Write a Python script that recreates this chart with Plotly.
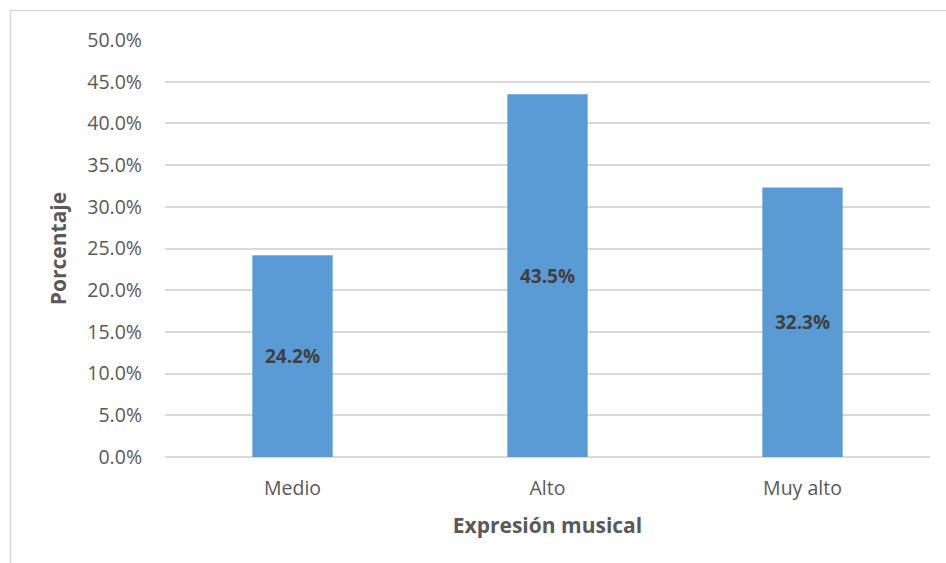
import plotly.graph_objects as go

# Share of respondents per level of musical expression
categories = ["Medio", "Alto", "Muy alto"]
values = [24.2, 43.5, 32.3]
tick_values = [0, 5, 10, 15, 20, 25, 30, 35, 40, 45, 50]
tick_labels = [f"{v:.1f}%" for v in tick_values]

W, H = 946, 563
ML, MR, MT, MB = 165, 16, 40, 106
plot_w = W - ML - MR
plot_h = H - MT - MB

FONT = "'Open Sans', Lato, sans-serif"
GREY = "#595959"

fig = go.Figure(
    go.Bar(
        x=categories,
        y=values,
        width=0.315,
        marker=dict(color="#5B9BD5", line=dict(width=0)),
        text=[f"{v:.1f}%" for v in values],
        textposition="inside",
        insidetextanchor="middle",
        textangle=0,
        textfont=dict(family=FONT, size=19, color="#404040", weight="bold"),
        cliponaxis=False,
    )
)

# Outer chart frame (partly off-page on the right and bottom)
px_to_x = lambda px: (px - ML) / plot_w
px_to_y = lambda py: (H - MB - py) / plot_h
fig.add_shape(
    type="rect", xref="paper", yref="paper",
    x0=px_to_x(10.5), x1=px_to_x(W + 20),
    y0=px_to_y(H + 20), y1=px_to_y(10.5),
    line=dict(color="#D9D9D9", width=1.5),
    fillcolor="rgba(0,0,0,0)", layer="below",
)

fig.update_layout(
    width=W,
    height=H,
    margin=dict(l=ML, r=MR, t=MT, b=MB),
    paper_bgcolor="white",
    plot_bgcolor="white",
    showlegend=False,
    font=dict(family=FONT, color=GREY),
    xaxis=dict(
        title=dict(text="<b>Expresión musical</b>",
                   font=dict(family=FONT, size=21, color=GREY),
                   standoff=18),
        tickfont=dict(family=FONT, size=19.5, color=GREY),
        ticks="", showline=False, showgrid=False,
        ticklabelstandoff=17,
    ),
    yaxis=dict(
        title=dict(text="<b>Porcentaje</b>",
                   font=dict(family=FONT, size=21, color=GREY),
                   standoff=14),
        range=[0, 50],
        tickvals=tick_values,
        ticktext=tick_labels,
        tickfont=dict(family=FONT, size=19.5, color=GREY),
        showgrid=True, gridcolor="#D9D9D9", gridwidth=1.5,
        zeroline=True, zerolinecolor="#D9D9D9", zerolinewidth=1.5,
        showline=False, ticks="",
        ticklabelstandoff=22,
    ),
)

fig.write_html("out.html")
